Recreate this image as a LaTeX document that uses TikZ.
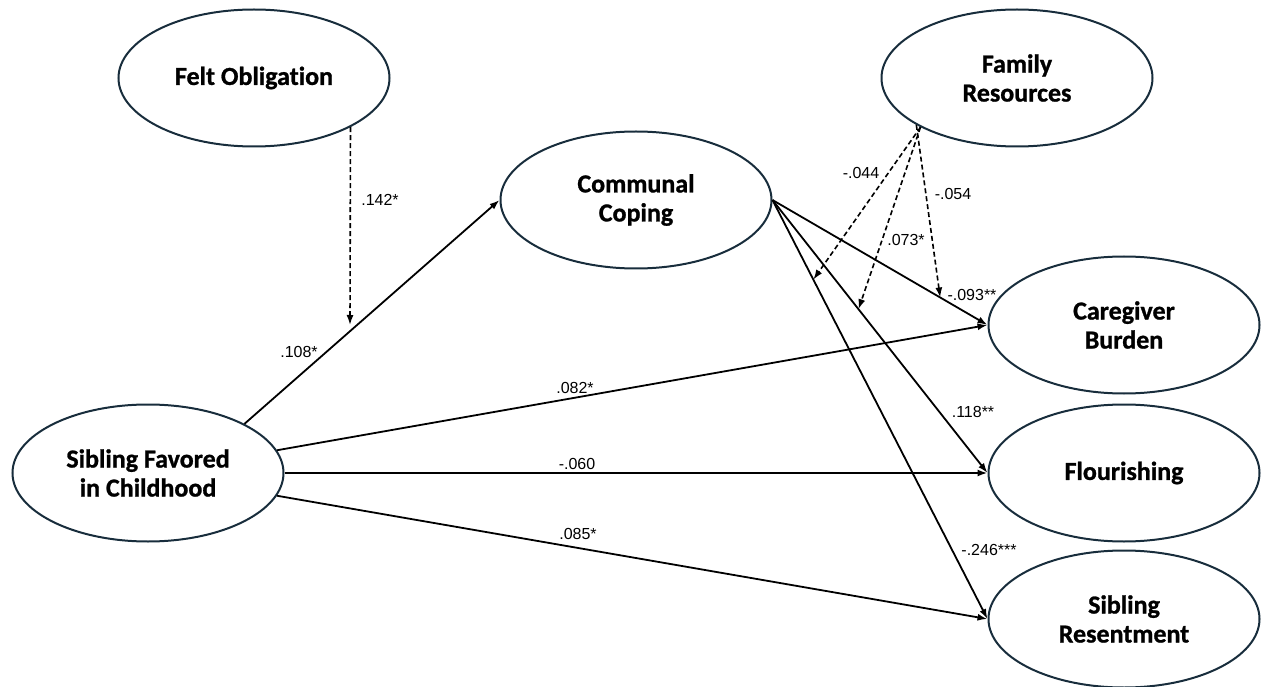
\documentclass[tikz,border=0pt]{standalone}
\usepackage{fontspec}
\setmainfont{Liberation Sans}
\newfontfamily\headfont[Ligatures=NoCommon,FakeBold=1]{Carlito}
\usetikzlibrary{shapes.geometric,arrows.meta,calc}
\definecolor{edgeblue}{RGB}{24,45,60}
\tikzset{
  latent/.style={draw=edgeblue, line width=2pt, ellipse, inner sep=0pt,
    minimum width=271pt, minimum height=137pt, align=center,
    font=\headfont\bfseries\fontsize{26}{29}\selectfont},
  path/.style={line width=1.8pt, -{Latex[length=10pt,width=7pt]}},
  modpath/.style={line width=1.6pt, dash pattern=on 5pt off 3pt, -{Latex[length=10pt,width=7pt]}},
  coef/.style={font=\fontsize{16}{18}\selectfont, inner sep=0pt}
}
\begin{document}
\begin{tikzpicture}[x=1pt,y=-1pt]
\useasboundingbox (0,0) rectangle (1262,687);
% latent variables
\node[latent] (fo) at (254,78) {Felt Obligation};
\node[latent] (cc) at (636,200) {Communal\\Coping};
\node[latent] (fr) at (1017,78) {Family\\Resources};
\node[latent] (cb) at (1124,325) {Caregiver\\Burden};
\node[latent] (fl) at (1124,473) {Flourishing};
\node[latent] (sr) at (1124,619) {Sibling\\Resentment};
\node[latent] (sf) at (148,473) {Sibling Favored\\in Childhood};
% main paths
\draw[path] (sf.27) -- (cc.west);
\draw[path] (sf.10) -- (cb.west);
\draw[path] (sf.east) -- (fl.west);
\draw[path] (sf.-10) -- (sr.west);
\draw[path] (cc.east) -- (cb.west);
\draw[path] (cc.east) -- (fl.west);
\draw[path] (cc.east) -- (sr.west);
% moderation targets
\coordinate (m1) at (350,325);
\coordinate (m2) at ($(cc.east)!0.19!(sr.west)$);
\coordinate (m3) at ($(cc.east)!0.40!(fl.west)$);
\coordinate (m4) at ($(cc.east)!0.78!(cb.west)$);
\draw[modpath] (fo.-27) -- (m1);
\draw[modpath] (fr.207) -- (m2);
\draw[modpath] (fr.207) -- (m3);
\draw[modpath] (fr.205) -- (m4);
% coefficients
\node[coef] (c1) at (380,200) {.142*};
\node[coef] (c2) at (299,352) {.108*};
\node[coef] (c3) at (861,173) {-.044};
\node[coef] (c4) at (906,240) {.073*};
\node[coef] (c5) at (953,194) {-.054};
\node[coef] (c6) at (972,295) {-.093**};
\node[coef] (c7) at (575,388) {.082*};
\node[coef] (c8) at (577,464) {-.060};
\node[coef] (c9) at (578,534) {.085*};
\node[coef] (c10) at (973,412) {.118**};
\node[coef] (c11) at (989,550) {-.246***};
\end{tikzpicture}
\end{document}
